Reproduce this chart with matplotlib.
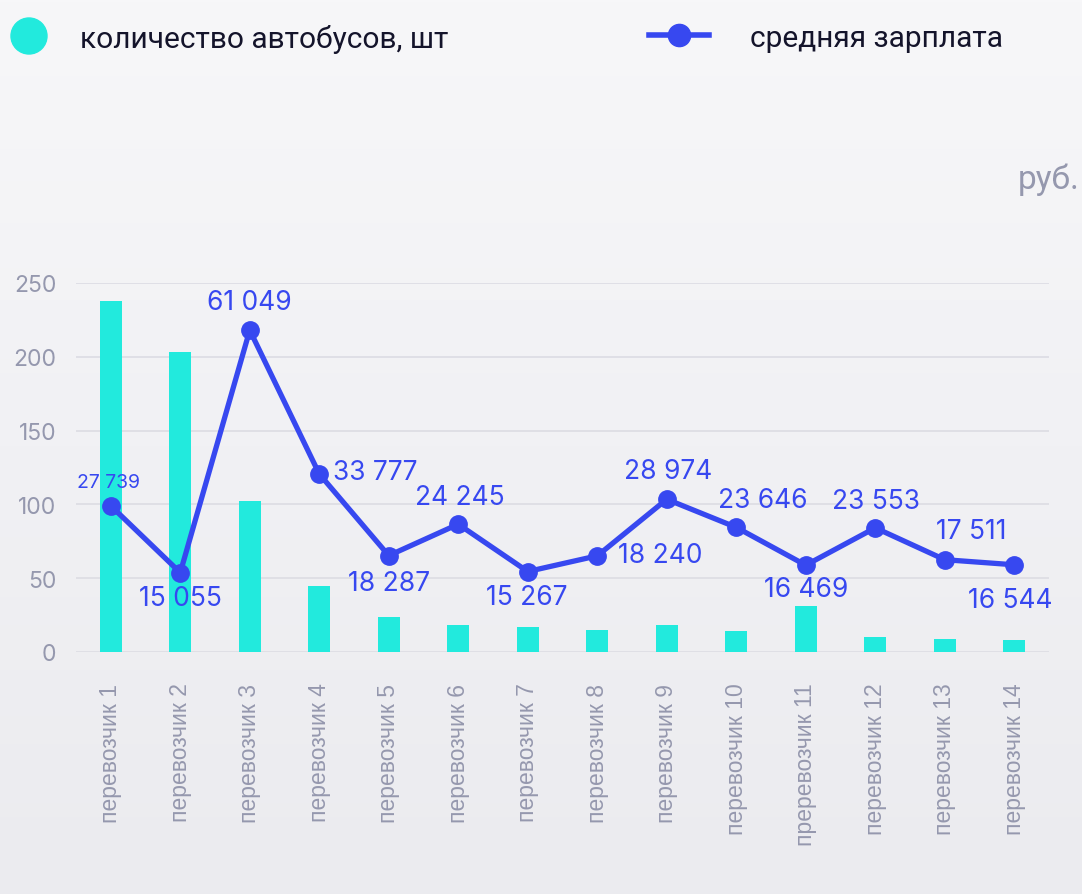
import numpy as np
import matplotlib
matplotlib.use("Agg")
import matplotlib.pyplot as plt
from matplotlib.lines import Line2D

# data
carriers = ["перевозчик 1", "перевозчик 2", "перевозчик 3", "перевозчик 4",
            "перевозчик 5", "перевозчик 6", "перевозчик 7", "перевозчик 8",
            "перевозчик 9", "перевозчик 10", "преревозчик 11", "перевозчик 12",
            "перевозчик 13", "перевозчик 14"]
buses = [238, 203, 102, 45, 24, 18, 17, 15, 18, 14, 31, 10, 9, 8]
salary = [27739, 15055, 61049, 33777, 18287, 24245, 15267, 18240, 28974,
          23646, 16469, 23553, 17511, 16544]

# label offsets in pixels (dx, dy), styling only
offsets = [(-2, 24), (0, -25), (0, 28), (56, 2), (0, -27), (2, 27), (-1, -25),
           (63, 1), (1, 28), (26, 27), (0, -24), (1, 27), (27, 29), (-4, -35)]
big = [False] + [True] * 13

BAR = "#22EADD"
LINE = "#3748F0"
GRAY = "#9598AE"
GRID = "#DCDCE3"

plt.rcParams["font.family"] = ["Inter", "DejaVu Sans"]

fig = plt.figure(figsize=(10.82, 8.95), dpi=100)

# background gradient
bg = fig.add_axes([0, 0, 1, 1], zorder=-10)
grad = np.linspace(0, 1, 256).reshape(-1, 1)
top = np.array([247, 247, 249]) / 255
bot = np.array([235, 235, 239]) / 255
img = top + (bot - top) * grad[:, :, None]
bg.imshow(img, aspect="auto", extent=[0, 1, 0, 1])
bg.axis("off")

W, H = 1082, 895
x0, x1, y0, y1 = 76, 1049, 653, 284
ax = fig.add_axes([x0 / W, 1 - y0 / H, (x1 - x0) / W, (y0 - y1) / H])
ax.patch.set_alpha(0)

x = np.arange(len(carriers))
ax.bar(x, buses, width=0.32, color=BAR, zorder=2)
ax.set_xlim(-0.5, len(carriers) - 0.5)
ax.set_ylim(0, 250)
ax.set_yticks(range(0, 251, 50))
ax.grid(axis="y", color=GRID, linewidth=1.2, zorder=0)
for s in ax.spines.values():
    s.set_visible(False)
ax.tick_params(axis="both", length=0, colors=GRAY)
ax.tick_params(axis="y", pad=14, labelsize=16.5)
ax.tick_params(axis="x", pad=22)
ax.set_xticks(x)
ax.set_xticklabels(carriers, rotation=90, fontsize=16.5,
                   family=["Liberation Sans", "DejaVu Sans"])

ax2 = ax.twinx()
ax2.set_ylim(0, 70000)
ax2.axis("off")
ax2.plot(x, salary, color=LINE, linewidth=3.8, marker="o", markersize=12.5,
         zorder=5, clip_on=False)
for i, v in enumerate(salary):
    lab = f"{v:,}".replace(",", " ")
    dx, dy = offsets[i]
    ax2.annotate(lab, (x[i], v), xytext=(dx * 0.72, dy * 0.72),
                 textcoords="offset points", ha="center", va="center",
                 color=LINE, fontsize=19 if big[i] else 14, zorder=6)

# legend
fig.patches.append(matplotlib.patches.Ellipse((29 / W, 1 - 37 / H), 36 / W, 36 / H,
                   transform=fig.transFigure, color=BAR, figure=fig))
fig.text(80 / W, 1 - 39 / H, "количество автобусов, шт", fontsize=21.5,
         va="center", ha="left", color="#14142B", family=["Roboto", "DejaVu Sans"])
fig.lines.append(Line2D([649 / W, 709 / W], [1 - 36 / H, 1 - 36 / H], color=LINE,
                        linewidth=4, transform=fig.transFigure, figure=fig))
fig.lines.append(Line2D([679 / W], [1 - 36 / H], color=LINE, marker="o",
                        markersize=16, transform=fig.transFigure, figure=fig))
fig.text(750 / W, 1 - 39 / H, "средняя зарплата", fontsize=21.5,
         va="center", ha="left", color="#14142B", family=["Roboto", "DejaVu Sans"])

fig.text(1080 / W, 1 - 180 / H, "руб.", fontsize=24, ha="right", va="center",
         color=GRAY, family=["Roboto", "DejaVu Sans"])

fig.savefig("out.png", dpi=100)
